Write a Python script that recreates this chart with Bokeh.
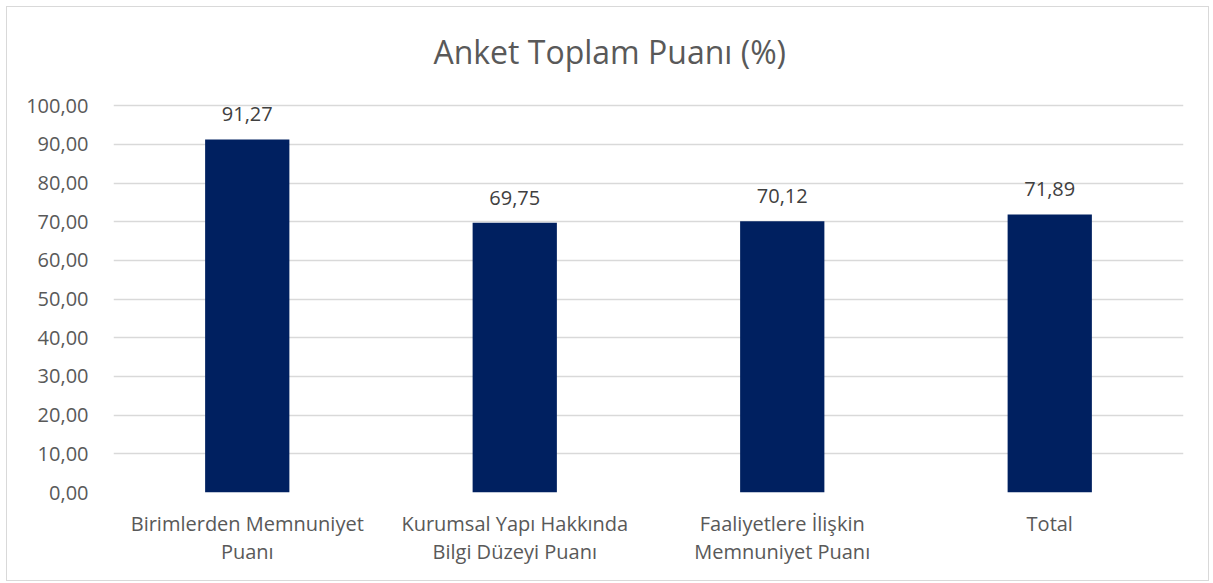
from bokeh.plotting import figure
from bokeh.models import ColumnDataSource, FixedTicker, Range1d, FactorRange
from bokeh.core.properties import value
from bokeh.embed import file_html
from bokeh.resources import INLINE

categories = ["Birimlerden Memnuniyet\nPuanı", "Kurumsal Yapı Hakkında\nBilgi Düzeyi Puanı",
              "Faaliyetlere İlişkin\nMemnuniyet Puanı", "Total"]
scores = [91.27, 69.75, 70.12, 71.89]
score_labels = ["91,27", "69,75", "70,12", "71,89"]
y_ticks = [0, 10, 20, 30, 40, 50, 60, 70, 80, 90, 100]
y_tick_labels = ["0,00", "10,00", "20,00", "30,00", "40,00", "50,00", "60,00", "70,00", "80,00", "90,00", "100,00"]
title_text = "Anket Toplam Puanı (%)"

FONT = "Open Sans"
TXT = "#595959"

p = figure(width=1203, height=575, output_backend="svg", toolbar_location=None,
           x_range=FactorRange(*categories), y_range=Range1d(0, 123.06),
           min_border_left=106, min_border_right=27, min_border_top=9, min_border_bottom=90)
p.styles = {"border": "1px solid #d9d9d9", "margin-left": "6px", "margin-top": "6px"}
p.outline_line_color = None
p.background_fill_color = "white"
p.border_fill_color = "white"

src = ColumnDataSource(dict(cat=categories, val=scores, lab=score_labels))
p.vbar(x="cat", top="val", width=0.315, source=src, color="#002060", line_color=None)
p.text(x="cat", y="val", text="lab", source=src, y_offset=-25, text_align="center",
       text_baseline="middle", text_font=value(FONT), text_font_size="20px", text_color="#404040")

p.text(x=[categories[1]], y=[114.0], text=[title_text], x_offset=95, text_align="center",
       text_baseline="middle", text_font=value(FONT), text_font_size="32px", text_color=TXT)

p.yaxis.ticker = FixedTicker(ticks=y_ticks)
p.yaxis.major_label_overrides = {t: l for t, l in zip(y_ticks, y_tick_labels)}
p.yaxis.axis_line_color = None
p.yaxis.major_tick_line_color = None
p.yaxis.minor_tick_line_color = None
p.yaxis.major_label_standoff = 19
p.yaxis.major_label_text_font = FONT
p.yaxis.major_label_text_font_size = "20px"
p.yaxis.major_label_text_color = TXT

p.xaxis.axis_line_color = None
p.xaxis.major_tick_line_color = None
p.xaxis.major_label_standoff = 11
p.xaxis.major_label_text_font = FONT
p.xaxis.major_label_text_font_size = "20px"
p.xaxis.major_label_text_line_height = 1.05
p.xaxis.major_label_text_color = TXT

p.xgrid.grid_line_color = None
p.ygrid.grid_line_color = "#d9d9d9"
p.ygrid.grid_line_width = 1.5
p.ygrid.ticker = FixedTicker(ticks=y_ticks)

open("out.html", "w").write(file_html(p, INLINE))
